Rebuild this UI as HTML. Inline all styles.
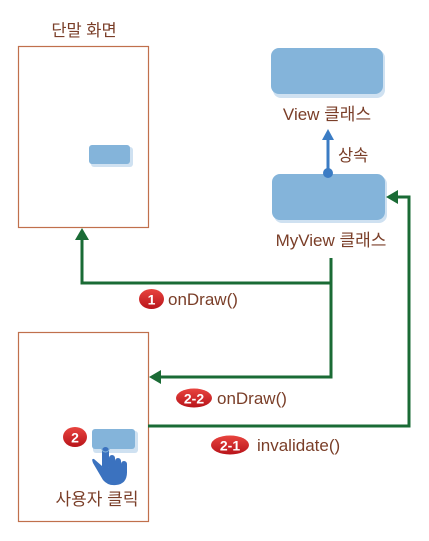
<!DOCTYPE html>
<html><head><meta charset="utf-8"><style>
html,body{margin:0;padding:0;background:#fff;}
svg text{font-family:"Liberation Sans","Noto Sans CJK KR",sans-serif;fill:#7a3e28;}
</style></head><body>
<svg width="429" height="536" viewBox="0 0 429 536" xmlns="http://www.w3.org/2000/svg">
<defs>
<linearGradient id="rb" x1="0" y1="0" x2="0" y2="1"><stop offset="0" stop-color="#e8443f"/><stop offset="1" stop-color="#b8141a"/></linearGradient>
</defs>
<rect x="18.5" y="46.5" width="130" height="181" fill="#fff" stroke="#c0704c" stroke-width="1.2"/>
<rect x="18.5" y="332.5" width="130" height="189" fill="#fff" stroke="#c0704c" stroke-width="1.2"/>
<text x="84" y="36" font-size="16.5" text-anchor="middle">단말 화면</text>
<rect x="91" y="147" width="42" height="20" rx="3" fill="#cfe1f1"/>
<rect x="89" y="145" width="41" height="19" rx="3" fill="#84b4da"/>
<rect x="273" y="50" width="112" height="48" rx="8" fill="#cfe1f1"/>
<rect x="271" y="48" width="112" height="46" rx="8" fill="#84b4da"/>
<text x="327" y="120" font-size="17" text-anchor="middle">View 클래스</text>
<rect x="274" y="176" width="113" height="47" rx="8" fill="#cfe1f1"/>
<rect x="272" y="174" width="113" height="46" rx="8" fill="#84b4da"/>
<text x="331" y="246" font-size="17" text-anchor="middle">MyView 클래스</text>
<line x1="328" y1="174" x2="328" y2="140" stroke="#3b7cc4" stroke-width="3"/>
<polygon points="328,129 322,140 334,140" fill="#3b7cc4"/>
<circle cx="328" cy="173" r="5" fill="#3b7cc4"/>
<text x="338" y="161" font-size="16.5">상속</text>
<g fill="none" stroke="#1a6b35" stroke-width="3">
<polyline points="331,258 331,283 82,283 82,238"/>
<polyline points="331,283 331,377 160,377"/>
<polyline points="148,426 409,426 409,197 396,197"/>
</g>
<polygon points="82,228 75,240 89,240" fill="#1a6b35"/>
<polygon points="149,377 161,370 161,384" fill="#1a6b35"/>
<polygon points="386,197 398,190 398,204" fill="#1a6b35"/>
<ellipse cx="151.5" cy="299" rx="12.5" ry="10" fill="url(#rb)"/>
<text x="151.5" y="304.5" font-size="14" font-weight="bold" text-anchor="middle" style="fill:#fff">1</text>
<text x="168" y="305" font-size="17">onDraw()</text>
<ellipse cx="194" cy="398" rx="18" ry="9.5" fill="url(#rb)"/>
<text x="194" y="403.5" font-size="14" font-weight="bold" text-anchor="middle" style="fill:#fff">2-2</text>
<text x="217" y="404" font-size="17">onDraw()</text>
<ellipse cx="230" cy="445" rx="19" ry="9.5" fill="url(#rb)"/>
<text x="230" y="450.5" font-size="14" font-weight="bold" text-anchor="middle" style="fill:#fff">2-1</text>
<text x="257" y="451" font-size="17">invalidate()</text>
<ellipse cx="75" cy="437" rx="12" ry="10" fill="url(#rb)"/>
<text x="75" y="442.5" font-size="14" font-weight="bold" text-anchor="middle" style="fill:#fff">2</text>
<rect x="93" y="431" width="45" height="22" rx="3" fill="#cfe1f1"/>
<rect x="92" y="429" width="43" height="20" rx="3" fill="#84b4da"/>
<g fill="#3b72bf">
<rect x="102" y="447" width="7" height="24" rx="3.5"/>
<rect x="109" y="455" width="6" height="18" rx="3"/>
<rect x="115" y="458" width="6" height="16" rx="3"/>
<rect x="121" y="461" width="6" height="14" rx="3"/>
<path d="M102 466 L94 459 Q91 458 93 463 L103 480 Q108 486 116 485 Q127 484 127 472 L127 468 L102 468 Z"/>
</g>
<circle cx="105.5" cy="448" r="4" fill="none" stroke="#84b4da" stroke-width="1"/>
<text x="97" y="505" font-size="17" text-anchor="middle">사용자 클릭</text>
</svg>
</body></html>
